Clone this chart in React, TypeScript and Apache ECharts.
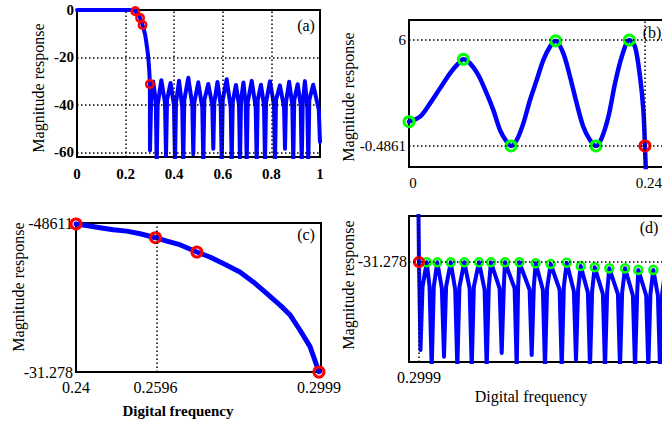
import React, { useEffect, useRef } from "react";
import * as echarts from "echarts";

// ---------- data ----------
// (a) passband (flat) part
const passFreq = [0, 0.05, 0.1, 0.15, 0.2, 0.232];
const passMag = [0, 0, 0, 0, 0, 0];

// transition band (panel c, also used in a and d)
const transFreq = [0.24, 0.2426, 0.2459, 0.2492, 0.2525, 0.2558, 0.2596, 0.2624, 0.2656, 0.2698, 0.273, 0.2763, 0.2804, 0.2837, 0.287, 0.2903, 0.2928, 0.2952, 0.2977, 0.2999];
const transMag = [-0.4861, -0.8, -1.27, -1.69, -1.97, -2.51, -3.34, -4.04, -4.79, -6.32, -7.36, -8.73, -10.46, -12.53, -14.93, -17.36, -19.43, -22.54, -26.0, -31.278];

// (a) stopband
const stopAFreq = [0.3004, 0.3045, 0.3135, 0.324, 0.328, 0.332, 0.347, 0.362, 0.3663, 0.3705, 0.385, 0.399, 0.4033, 0.4075, 0.42, 0.433, 0.4374, 0.4415, 0.458, 0.4745, 0.4786, 0.4828, 0.499, 0.5155, 0.5198, 0.524, 0.54, 0.5567, 0.5609, 0.565, 0.578, 0.5913, 0.5955, 0.5997, 0.616, 0.6325, 0.6366, 0.6408, 0.654, 0.6667, 0.6708, 0.675, 0.685, 0.6942, 0.6984, 0.7025, 0.719, 0.7353, 0.7395, 0.7437, 0.757, 0.7695, 0.7737, 0.778, 0.794, 0.8107, 0.8148, 0.819, 0.835, 0.852, 0.856, 0.86, 0.873, 0.886, 0.8901, 0.894, 0.908, 0.9205, 0.9247, 0.929, 0.938, 0.9477, 0.9519, 0.956, 0.972, 0.995, 1.0];
const stopAMag = [-59.2, -40, -30.2, -38, -64, -40, -29.6, -39, -61.5, -38, -30.8, -40, -64, -39, -29.8, -41, -64, -38, -28.6, -40, -60.8, -39, -30.5, -41, -64, -38, -31.2, -40, -58.5, -39, -30.4, -40, -64, -38, -29.2, -41, -64, -39, -31.6, -40, -64, -38, -30.6, -40, -64, -39, -29.9, -41, -64, -38, -31.5, -40, -64, -39, -30.1, -40, -64, -38, -31.8, -41, -58.5, -39, -30.3, -40, -64, -38, -31.3, -40, -64, -39, -30.0, -41, -64, -38, -31.5, -42, -55.6];

// (b) passband ripple
const ripFreq = [0, 0.0112, 0.0214, 0.0315, 0.0417, 0.0502, 0.0553, 0.0621, 0.0705, 0.079, 0.0858, 0.0926, 0.0994, 0.1038, 0.1096, 0.1163, 0.1231, 0.1299, 0.1367, 0.1434, 0.1492, 0.157, 0.1638, 0.1706, 0.1773, 0.1841, 0.1902, 0.196, 0.2028, 0.2096, 0.2164, 0.2241, 0.2299, 0.235, 0.2384, 0.24, 0.2412];
const ripMag = [1.0, 1.31, 2.12, 3.04, 3.96, 4.57, 4.82, 4.57, 3.86, 2.73, 1.71, 0.49, -0.23, -0.4861, -0.12, 0.9, 2.33, 3.55, 4.78, 5.59, 5.95, 5.18, 3.75, 2.12, 0.69, -0.12, -0.4861, 0.0, 1.3, 3.35, 4.98, 6.0, 5.59, 3.75, 1.71, -0.4861, -2.5];

// (d) stopband detail
const stopDFreq = [0.3042, 0.31, 0.3219, 0.33, 0.3361, 0.342, 0.352, 0.365, 0.3711, 0.377, 0.3902, 0.403, 0.409, 0.415, 0.4289, 0.444, 0.45, 0.456, 0.4707, 0.4866, 0.4926, 0.4986, 0.5048, 0.5293, 0.5353, 0.5413, 0.5447, 0.572, 0.578, 0.582, 0.5854, 0.6147, 0.6207, 0.6267, 0.632, 0.6525, 0.6585, 0.6645, 0.6747, 0.7001, 0.7061, 0.7121, 0.7203, 0.7407, 0.7467, 0.7527, 0.7601, 0.7806, 0.7866, 0.7926, 0.8, 0.8233, 0.8293, 0.8353, 0.8415, 0.866, 0.872, 0.878, 0.8862, 0.9087, 0.9147, 0.9207, 0.924, 0.9465, 0.9525, 0.9585, 0.9667, 0.9798, 0.9858, 0.9918, 1.0];
const stopDMag = [-37.37, -33.0, -31.3, -33.0, -38.6, -33.0, -31.3, -33.1, -37.83, -33.0, -31.3, -33.2, -38.6, -33.0, -31.3, -33.1, -38.6, -33.0, -31.3, -33.2, -38.6, -33.0, -31.3, -33.1, -37.57, -33.0, -31.3, -33.1, -38.6, -33.0, -31.3, -33.2, -37.71, -33.0, -31.37, -33.2, -38.6, -33.1, -31.42, -33.2, -38.6, -33.0, -31.33, -33.3, -38.06, -33.2, -31.56, -33.4, -38.6, -33.3, -31.65, -33.5, -38.6, -33.4, -31.72, -33.5, -38.6, -33.4, -31.72, -33.6, -38.6, -33.5, -31.83, -33.6, -38.6, -33.5, -31.83, -33.6, -38.6, -33.5, -32.0];

// markers
const redTransFreq = [0.24, 0.2596, 0.2698, 0.2999];
const redTransMag = [-0.4861, -3.34, -6.32, -31.278];
const greenBFreq = [0, 0.0553, 0.1038, 0.1492, 0.1902, 0.2241];
const greenBMag = [1.0, 4.82, -0.4861, 5.95, -0.4861, 6.0];
const redBFreq = [0.24];
const redBMag = [-0.4861];
const greenDFreq = [0.3219, 0.352, 0.3902, 0.4289, 0.4707, 0.5048, 0.5447, 0.5854, 0.632, 0.6747, 0.7203, 0.7601, 0.8, 0.8415, 0.8862, 0.924, 0.9667];
const greenDMag = [-31.3, -31.3, -31.3, -31.3, -31.3, -31.3, -31.3, -31.3, -31.37, -31.42, -31.33, -31.56, -31.65, -31.72, -31.72, -31.83, -31.83];
const redDFreq = [0.2999];
const redDMag = [-31.278];

// ticks
const aXTicks = [0, 0.2, 0.4, 0.6, 0.8, 1];
const aXLabels = ["0", "0.2", "0.4", "0.6", "0.8", "1"];
const aYTicks = [-60, -40, -20, 0];
const aYLabels = ["-60", "-40", "-20", "0"];
const bXTicks = [0, 0.24];
const bXLabels = ["0", "0.24"];
const bYTicks = [-0.4861, 6];
const bYLabels = ["-0.4861", "6"];
const cXTicks = [0.24, 0.2596, 0.2999];
const cXLabels = ["0.24", "0.2596", "0.2999"];
const cYTicks = [-31.278, -0.4861];
const cYLabels = ["-31.278", "-48611"];
const dXTicks = [0.2999];
const dXLabels = ["0.2999"];
const dYTicks = [-31.278];
const dYLabels = ["-31.278"];

// dotted reference lines
const aGridX = [0.2, 0.4, 0.6, 0.8];
const aGridY = [-20, -40, -60];
const bGridX = [0.24];
const bGridY = [6, -0.4861];
const cGridX = [0.2596];
const cGridY: number[] = [];
const dGridX = [0.2999];
const dGridY = [-31.278];

const FONT = "Liberation Serif";
const BLUE = "#0000ff";
const RED = "#ff0000";
const GREEN = "#00ff00";

const pairs = (xs: number[], ys: number[]) => xs.map((x, i) => [x, ys[i]]);
const fmt = (vals: number[], labs: string[]) => (v: number) => {
  let bi = 0;
  vals.forEach((x, i) => {
    if (Math.abs(x - v) < Math.abs(vals[bi] - v)) bi = i;
  });
  return labs[bi];
};

export default function App() {
  const ref = useRef<HTMLDivElement>(null);
  useEffect(() => {
    if (!ref.current) return;
    const chart = echarts.init(ref.current, null, { renderer: "svg" });

    const grids = [
      { left: 77, top: 10, width: 243, height: 147 },
      { left: 409, top: 20, width: 256, height: 147 },
      { left: 76, top: 223, width: 245, height: 149 },
      { left: 409, top: 216, width: 256, height: 146 },
    ].map((g) => ({
      ...g,
      show: true,
      borderColor: "#000",
      borderWidth: 2,
      backgroundColor: "#fff",
      containLabel: false,
      outerBoundsMode: "none",
    }));

    const xCfg = [
      { min: 0, max: 1, ticks: aXTicks, labels: aXLabels, size: 15, bold: true, margin: 9, pad: [0, 0, 0, 0] },
      { min: 0, max: 0.2604, ticks: bXTicks, labels: bXLabels, size: 15, bold: false, margin: 8, pad: [0, 0, 0, 8] },
      { min: 0.24, max: 0.3004, ticks: cXTicks, labels: cXLabels, size: 16, bold: false, margin: 7, pad: [0, 0, 0, 0] },
      { min: 0.2715, max: 1, ticks: dXTicks, labels: dXLabels, size: 16, bold: false, margin: 7, pad: [0, 0, 0, 0] },
    ];
    const yCfg = [
      { min: -62, max: 0, ticks: aYTicks, labels: aYLabels, size: 15, bold: true, margin: 3 },
      { min: -1.772, max: 7.225, ticks: bYTicks, labels: bYLabels, size: 15, bold: false, margin: 3 },
      { min: -31.278, max: -0.28, ticks: cYTicks, labels: cYLabels, size: 16, bold: false, margin: 3 },
      { min: -38.2, max: -28.1, ticks: dYTicks, labels: dYLabels, size: 16, bold: false, margin: 2 },
    ];

    const xAxis = xCfg.map((c, i) => ({
      type: "value",
      gridIndex: i,
      min: c.min,
      max: c.max,
      axisLine: { show: false },
      axisTick: { show: false },
      splitLine: { show: false },
      axisLabel: {
        customValues: c.ticks,
        formatter: fmt(c.ticks, c.labels),
        color: "#000",
        fontFamily: FONT,
        fontSize: c.size,
        fontWeight: c.bold ? "bold" : "normal",
        margin: c.margin,
        padding: c.pad,
        hideOverlap: false,
      },
    }));
    const yAxis = yCfg.map((c, i) => ({
      type: "value",
      gridIndex: i,
      min: c.min,
      max: c.max,
      axisLine: { show: false },
      axisTick: { show: false },
      splitLine: { show: false },
      axisLabel: {
        customValues: c.ticks,
        formatter: fmt(c.ticks, c.labels),
        color: "#000",
        fontFamily: FONT,
        fontSize: c.size,
        fontWeight: c.bold ? "bold" : "normal",
        margin: c.margin,
        hideOverlap: false,
      },
    }));

    const gridLines = (i: number, xs: number[], ys: number[]) => ({
      type: "line",
      xAxisIndex: i,
      yAxisIndex: i,
      data: [],
      z: 1,
      silent: true,
      markLine: {
        silent: true,
        symbol: ["none", "none"],
        label: { show: false },
        lineStyle: { color: "#000", type: [1.5, 2.5], width: 1.5 },
        emphasis: { disabled: true },
        data: [...xs.map((v) => ({ xAxis: v })), ...ys.map((v) => ({ yAxis: v }))],
      },
    });

    const curve = (i: number, data: number[][], width: number, smooth: number | boolean = false) => ({
      type: "line",
      xAxisIndex: i,
      yAxisIndex: i,
      data,
      showSymbol: false,
      smooth,
      clip: true,
      z: 2,
      lineStyle: { color: BLUE, width, cap: "round", join: "round" },
    });

    const marks = (i: number, data: number[][], color: string, size: number, bw: number) => ({
      type: "scatter",
      xAxisIndex: i,
      yAxisIndex: i,
      data,
      symbol: "circle",
      symbolSize: size,
      z: 3,
      silent: true,
      itemStyle: { color: "rgba(0,0,0,0)", borderColor: color, borderWidth: bw, opacity: 1 },
    });

    const aData = [
      ...pairs(passFreq, passMag),
      ...pairs(transFreq, transMag),
      ...pairs(stopAFreq, stopAMag),
    ];
    const dData = [...pairs(transFreq, transMag), ...pairs(stopDFreq, stopDMag)];

    const mr = (text: string, x: number, y: number) => ({
      type: "text",
      x,
      y,
      rotation: Math.PI / 2,
      style: {
        text,
        fill: "#000",
        fontFamily: FONT,
        fontSize: 16,
        align: "center",
        verticalAlign: "middle",
        textAlign: "center",
        textVerticalAlign: "middle",
      },
    });
    const txt = (text: string, x: number, y: number, size: number, bold = false) => ({
      type: "text",
      x,
      y,
      style: {
        text,
        fill: "#000",
        fontFamily: FONT,
        fontSize: size,
        fontWeight: bold ? "bold" : "normal",
        align: "center",
        verticalAlign: "middle",
        textAlign: "center",
        textVerticalAlign: "middle",
      },
    });

    chart.setOption({
      animation: false,
      backgroundColor: "#fff",
      textStyle: { fontFamily: FONT },
      grid: grids,
      xAxis,
      yAxis,
      series: [
        gridLines(0, aGridX, aGridY),
        gridLines(1, bGridX, bGridY),
        gridLines(2, cGridX, cGridY),
        gridLines(3, dGridX, dGridY),
        curve(0, aData, 4),
        curve(1, pairs(ripFreq, ripMag), 4.5, 0.3),
        curve(2, pairs(transFreq, transMag), 5),
        curve(3, dData, 4),
        marks(0, pairs(redTransFreq, redTransMag), RED, 7.5, 2.5),
        marks(1, pairs(greenBFreq, greenBMag), GREEN, 10, 3),
        marks(1, pairs(redBFreq, redBMag), RED, 10, 3),
        marks(2, pairs(redTransFreq, redTransMag), RED, 10, 3),
        marks(3, pairs(greenDFreq, greenDMag), GREEN, 8, 2.5),
        marks(3, pairs(redDFreq, redDMag), RED, 9, 3),
      ],
      graphic: [
        mr("Magnitude response", 38, 88),
        mr("Magnitude response", 348, 97),
        mr("Magnitude response", 18, 287),
        mr("Magnitude response", 348, 285),
        txt("Digital frequency", 178, 411, 15, true),
        txt("Digital frequency", 531, 396, 16),
        txt("(a)", 306, 25, 16),
        txt("(b)", 652, 32, 16),
        txt("(c)", 306, 234, 16),
        txt("(d)", 649, 227, 16),
      ],
    });
    return () => chart.dispose();
  }, []);

  return (
    <div
      style={{
        position: "fixed",
        left: 0,
        top: 0,
        width: 662,
        height: 422,
        overflow: "hidden",
        background: "#fff",
      }}
    >
      <div ref={ref} style={{ width: 680, height: 422 }} />
    </div>
  );
}
